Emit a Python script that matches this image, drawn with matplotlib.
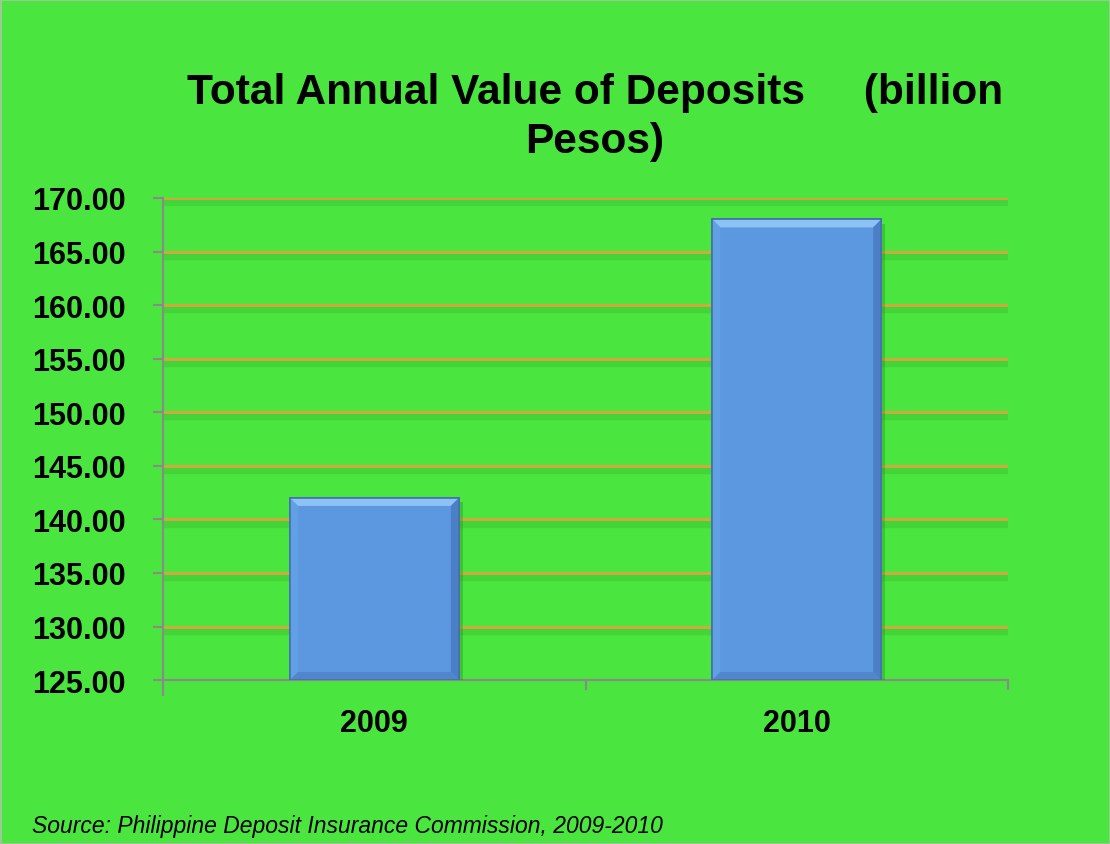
import numpy as np
import matplotlib
matplotlib.use("Agg")
import matplotlib.pyplot as plt
import matplotlib.patheffects as pe
from matplotlib.patches import Polygon

years = ["2009", "2010"]
deposits = [142.0, 168.0]
y_ticks = np.arange(125, 171, 5)

plt.rcParams['font.family'] = ['Liberation Sans', 'DejaVu Sans']

green = '#4AE53E'
fig = plt.figure(figsize=(11.1, 8.45), dpi=100, facecolor=green)
fig.patch.set_edgecolor('#9cc896')
fig.patch.set_linewidth(2)
ax = fig.add_axes([0.147, 0.194, 0.761, 0.5705])
ax.set_facecolor(green)

x = np.arange(len(years))
bars = ax.bar(x, deposits, width=0.4, bottom=0, color='#5B98E0',
              edgecolor='#4670B0', linewidth=1.2, zorder=3,
              path_effects=[pe.SimplePatchShadow(offset=(3, -3), shadow_rgbFace='#1f7a18', alpha=0.3),
                            pe.Normal()])

ax.set_xlim(-0.5, 1.5)
ax.set_ylim(125, 170)

# bevel on the bars
bev_x = 8 * 2.0 / 845
bev_y = 8 * 45.0 / 482
for b in bars:
    x0, w, h = b.get_x(), b.get_width(), b.get_height()
    x1, y0, y1 = x0 + w, 125, h
    sides = [
        ([(x0, y1), (x1, y1), (x1 - bev_x, y1 - bev_y), (x0 + bev_x, y1 - bev_y)], '#8CC2F4'),
        ([(x0, y0), (x0, y1), (x0 + bev_x, y1 - bev_y), (x0 + bev_x, y0 + bev_y)], '#62A0E6'),
        ([(x1, y0), (x1, y1), (x1 - bev_x, y1 - bev_y), (x1 - bev_x, y0 + bev_y)], '#4C80C6'),
        ([(x0, y0), (x1, y0), (x1 - bev_x, y0 + bev_y), (x0 + bev_x, y0 + bev_y)], '#5286CC'),
    ]
    for pts, c in sides:
        ax.add_patch(Polygon(pts, closed=True, facecolor=c, edgecolor='none', zorder=3.5))
    ax.add_patch(plt.Rectangle((x0, y0), w, h - y0, fill=False, edgecolor='#4670B0',
                               linewidth=1.2, zorder=4))

ax.set_yticks(y_ticks)
ax.set_yticklabels([f"{v:.2f}" for v in y_ticks], fontsize=22, fontweight='bold')
ax.set_xticks([-0.5, 0.5, 1.5])
ax.set_xticklabels([])
ax.set_xticks(x, minor=True)
ax.set_xticklabels(years, minor=True, fontsize=22, fontweight='bold')
ax.tick_params(axis='x', which='minor', length=0, pad=20)
ax.tick_params(axis='x', which='major', direction='out', length=7, width=1.5, color='#8a8a8a')
ax.tick_params(axis='y', direction='out', length=7, width=1.5, color='#8a8a8a', pad=20)

for v in y_ticks[1:]:
    ax.axhline(v, color='#D8A640', linewidth=2.0, zorder=1,
               path_effects=[pe.SimpleLineShadow(offset=(0, -3), shadow_color='#1f7a18', alpha=0.15, linewidth=6),
                             pe.Normal()])

for s in ['top', 'right']:
    ax.spines[s].set_visible(False)
for s in ['left', 'bottom']:
    ax.spines[s].set_color('#8a8a8a')
    ax.spines[s].set_linewidth(1.5)
ax.spines['left'].set_bounds(123.6, 170)

fig.text(0.536, 0.861, "Total Annual Value of Deposits     (billion\nPesos)",
         ha='center', va='center', fontsize=30.5, fontweight='bold', linespacing=1.3)
fig.text(0.029, 0.008, "Source: Philippine Deposit Insurance Commission, 2009-2010",
         ha='left', va='bottom', fontsize=16.5, style='italic')

fig.savefig('out.png', dpi=100, facecolor=fig.get_facecolor(), edgecolor=fig.get_edgecolor())
